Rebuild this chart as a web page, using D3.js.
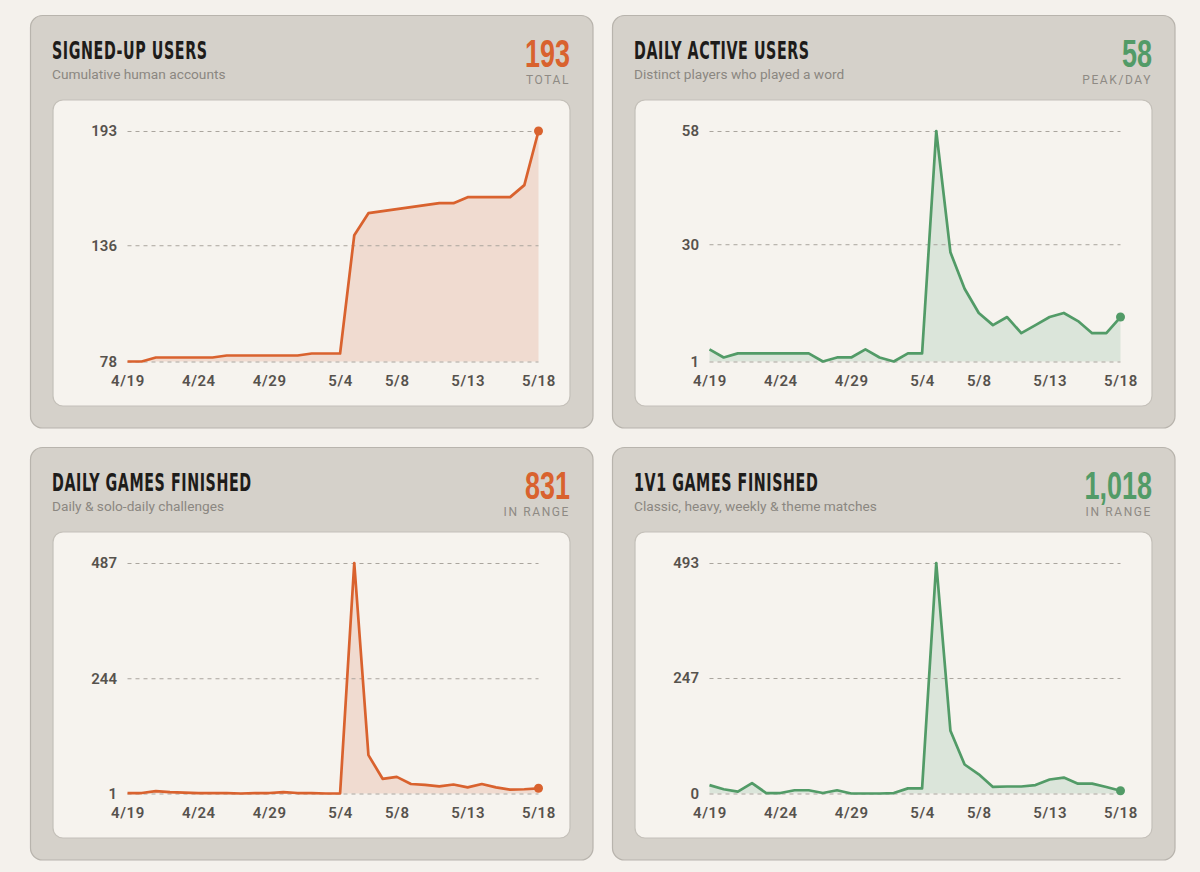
<!DOCTYPE html>
<html>
<head>
<meta charset="utf-8">
<script src="https://cdn.jsdelivr.net/npm/d3@7"></script>
<style>
  body { margin: 0; background: #f4f1ec; }
  svg { display: block; }
</style>
</head>
<body>
<script>
// days shown on every panel
var days = ["2025-04-19","2025-04-20","2025-04-21","2025-04-22","2025-04-23","2025-04-24",
  "2025-04-25","2025-04-26","2025-04-27","2025-04-28","2025-04-29","2025-04-30",
  "2025-05-01","2025-05-02","2025-05-03","2025-05-04","2025-05-05","2025-05-06",
  "2025-05-07","2025-05-08","2025-05-09","2025-05-10","2025-05-11","2025-05-12",
  "2025-05-13","2025-05-14","2025-05-15","2025-05-16","2025-05-17","2025-05-18"];
var xTickDays = ["2025-04-19","2025-04-24","2025-04-29","2025-05-04","2025-05-08","2025-05-13","2025-05-18"];

// series values
var signedUp = [78,78,80,80,80,80,80,81,81,81,81,81,81,82,82,82,141,152,153,154,155,156,157,157,160,160,160,160,166,193];
var activeUsers = [4,2,3,3,3,3,3,3,1,2,2,4,2,1,3,3,58,28,19,13,10,12,8,10,12,13,11,8,8,12];
var dailyGames = [2,2,6,4,3,2,2,2,1,2,2,4,2,2,1,1,487,82,32,36,21,19,16,20,14,21,14,9,10,12];
var versusGames = [18,9,4,22,1,1,7,7,1,7,0,0,0,1,11,11,493,134,62,41,14,15,15,18,30,34,21,21,14,6];

// y tick labels
var signedUpTicks = [78,136,193];
var activeTicks = [1,30,58];
var dailyTicks = [1,244,487];
var versusTicks = [0,247,493];

// panel texts
var titles = ["SIGNED-UP USERS","DAILY ACTIVE USERS","DAILY GAMES FINISHED","1V1 GAMES FINISHED"];
var subtitles = ["Cumulative human accounts","Distinct players who played a word",
  "Daily & solo-daily challenges","Classic, heavy, weekly & theme matches"];
var bigNumbers = ["193","58","831","1,018"];
var bigLabels = ["TOTAL","PEAK/DAY","IN RANGE","IN RANGE"];

var ORANGE = "#d9622e", ORANGE_FILL = "#f0dbd0";
var GREEN = "#529b67", GREEN_FILL = "#dbe5da";

var panels = [
  {x: 30.5, y: 15.5, values: signedUp, ticks: signedUpTicks, color: ORANGE, fill: ORANGE_FILL},
  {x: 612.5, y: 15.5, values: activeUsers, ticks: activeTicks, color: GREEN, fill: GREEN_FILL},
  {x: 30.5, y: 447.5, values: dailyGames, ticks: dailyTicks, color: ORANGE, fill: ORANGE_FILL},
  {x: 612.5, y: 447.5, values: versusGames, ticks: versusTicks, color: GREEN, fill: GREEN_FILL}
];

var cardW = 562.5, cardH = 412.5;
var parseDay = d3.timeParse("%Y-%m-%d");
var fmt = d3.timeFormat("%-m/%-d");

var svg = d3.select("body").append("svg")
    .attr("width", 1200)
    .attr("height", 872);

var xScale = d3.scaleTime()
    .domain(d3.extent(days, parseDay))
    .range([97, 508]);

panels.forEach(function(p, i) {
    var g = svg.append("g").attr("transform", "translate(" + p.x + "," + p.y + ")");

    // outer card
    g.append("rect")
        .attr("width", cardW).attr("height", cardH)
        .attr("rx", 12)
        .attr("fill", "#d5d1ca")
        .attr("stroke", "#b8b4ad").attr("stroke-width", 1.2);

    // title
    g.append("text")
        .attr("transform", "translate(21.5,43.5) scale(0.635,1)")
        .attr("font-family", "'Liberation Sans Narrow', 'DejaVu Sans Condensed', sans-serif")
        .attr("font-weight", 700)
        .attr("font-size", 25)
        .attr("letter-spacing", 0.9)
        .attr("fill", "#1e1c1a")
        .text(titles[i]);

    g.append("text")
        .attr("x", 21.5).attr("y", 63.8)
        .attr("font-family", "Roboto, sans-serif")
        .attr("font-size", 13.7)
        .attr("fill", "#8b8781")
        .text(subtitles[i]);

    // big stat on the right
    g.append("text")
        .attr("transform", "translate(539.5,51) scale(0.71,1)")
        .attr("text-anchor", "end")
        .attr("font-family", "'Liberation Sans Narrow', sans-serif")
        .attr("font-weight", 700)
        .attr("font-size", 38)
        .attr("fill", p.color)
        .text(bigNumbers[i]);

    g.append("text")
        .attr("x", 539.5).attr("y", 68.5)
        .attr("text-anchor", "end")
        .attr("font-family", "Roboto, sans-serif")
        .attr("font-size", 12)
        .attr("letter-spacing", 1.6)
        .attr("fill", "#8e8a84")
        .text(bigLabels[i]);

    // inner chart box
    g.append("rect")
        .attr("x", 22.5).attr("y", 84.5)
        .attr("width", 517).attr("height", 306)
        .attr("rx", 10)
        .attr("fill", "#f6f3ee")
        .attr("stroke", "#c4c0b9").attr("stroke-width", 1.2);

    var data = p.values.map(function(v, j) { return {date: parseDay(days[j]), value: v}; });

    var yScale = d3.scaleLinear()
        .domain([p.ticks[0], p.ticks[2]])
        .range([346, 115.5]);

    var area = d3.area()
        .x(function(d) { return xScale(d.date); })
        .y0(yScale.range()[0])
        .y1(function(d) { return yScale(d.value); });

    var line = d3.line()
        .x(function(d) { return xScale(d.date); })
        .y(function(d) { return yScale(d.value); });

    g.append("path")
        .datum(data)
        .attr("fill", p.fill)
        .attr("d", area);

    // y axis with dashed grid
    g.append("g")
        .attr("transform", "translate(97,0)")
        .call(d3.axisLeft(yScale)
            .tickValues(p.ticks)
            .tickSize(-411)
            .tickPadding(10.5)
            .tickFormat(d3.format("d")))
        .call(function(ax) {
            ax.select(".domain").remove();
            ax.selectAll("line")
                .attr("stroke", "#aaa59e")
                .attr("stroke-width", 1)
                .attr("stroke-dasharray", "4,4");
            ax.selectAll("text")
                .attr("font-family", "Roboto, sans-serif")
                .attr("font-size", 15)
                .attr("font-weight", 600)
                .attr("fill", "#56524d");
        });

    g.append("path")
        .datum(data)
        .attr("fill", "none")
        .attr("stroke", p.color)
        .attr("stroke-width", 2.7)
        .attr("stroke-linejoin", "round")
        .attr("d", line);

    var last = data[data.length - 1];
    g.append("circle")
        .attr("cx", xScale(last.date))
        .attr("cy", yScale(last.value))
        .attr("r", 4.5)
        .attr("fill", p.color);

    // x axis
    g.append("g")
        .attr("transform", "translate(0,346)")
        .call(d3.axisBottom(xScale)
            .tickValues(xTickDays.map(parseDay))
            .tickSize(0)
            .tickFormat(fmt))
        .call(function(ax) {
            ax.select(".domain").remove();
            ax.selectAll("text")
                .attr("y", 24.5)
                .attr("dy", 0)
                .attr("font-family", "Roboto, sans-serif")
                .attr("font-size", 15)
                .attr("font-weight", 600)
                .attr("letter-spacing", 0.6)
                .attr("fill", "#56524d");
        });
});
</script>
</body>
</html>
